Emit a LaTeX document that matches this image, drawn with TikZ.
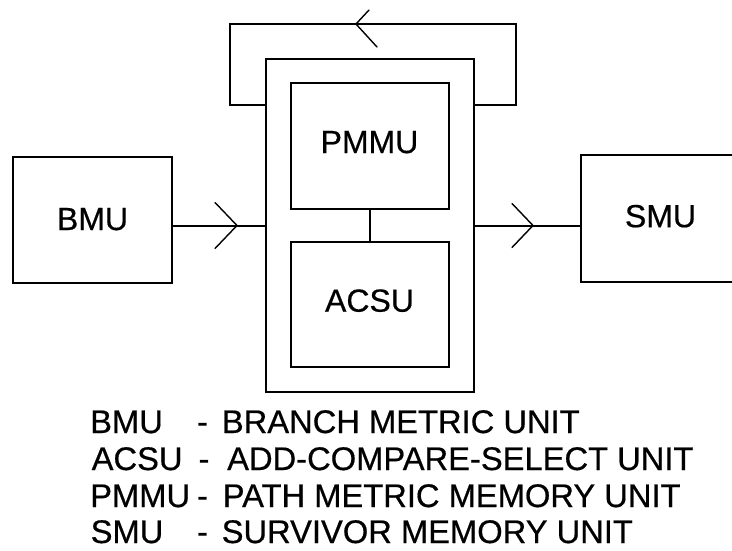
\documentclass[tikz,border=0pt]{standalone}
\usepackage{fontspec}
\setmainfont{Liberation Sans}[BoldFont=Liberation Sans, BoldFeatures={FakeBold=0.5}]
\newcommand{\heavytext}{\bfseries}
\begin{document}
\begin{tikzpicture}[x=1pt,y=-1pt,
  box/.style={draw, line width=2pt, inner sep=0pt, font=\fontsize{32}{38}\selectfont\heavytext},
  wire/.style={line width=2pt},
  chev/.style={line width=1.4pt, line cap=round},
  legend/.style={anchor=base west, inner sep=0pt, font=\fontsize{32.7}{38}\selectfont\heavytext},
  legdash/.style={anchor=base, inner sep=0pt, font=\fontsize{32.7}{38}\selectfont\heavytext}]
% page area
\fill[white] (0,0) rectangle (732,550);
\useasboundingbox (0,0) rectangle (732,550);
\clip (0,0) rectangle (732,550);

% blocks
\node[box, minimum width=159pt, minimum height=126pt, text depth=2pt] (bmu) at (92.5,220) {BMU};
\node[box, minimum width=159pt, minimum height=127pt, text depth=5pt] (smu) at (660.5,218.5) {SMU};
\node[box, minimum width=208pt, minimum height=333pt] (core) at (370,225.5) {};
\node[box, minimum width=158pt, minimum height=126pt, text depth=8pt] (pmmu) at (369.5,146) {PMMU};
\node[box, minimum width=158pt, minimum height=125pt, text depth=8pt] (acsu) at (369.5,304.5) {ACSU};

% connections
\draw[wire] (pmmu.south) -- (pmmu.south |- acsu.north);
\draw[wire] (bmu.east |- core.west) -- (core.west);
\draw[wire] (core.east) -- (core.east -| smu.west);
\draw[wire] (core.west |- 0,105) -- (230,105) |- (516,24) |- (core.east |- 0,105);

% direction marks
\coordinate (inTip) at (237,225.5);
\coordinate (outTip) at (533,225.5);
\coordinate (fbTip) at (356,24);
\draw[chev] ([shift={(-22,-23)}]inTip) -- (inTip) -- ([shift={(-22,23)}]inTip);
\draw[chev] ([shift={(-21,-22)}]outTip) -- (outTip) -- ([shift={(-21,22)}]outTip);
\draw[chev] ([shift={(13,-14)}]fbTip) -- (fbTip) -- ([shift={(21,23)}]fbTip);

% legend
\node[legend] (kBMU) at (90,433) {BMU};
\node[legdash] (dBMU) at (202.5,433) {-};
\node[legend] (tBMU) at (221.7,433) {BRANCH METRIC UNIT};

\node[legend] (kACSU) at (91.5,470) {ACSU};
\node[legdash] (dACSU) at (204,470) {-};
\node[legend] (tACSU) at (227,470) {ADD-COMPARE-SELECT UNIT};

\node[legend] (kPMMU) at (90,507) {PMMU};
\node[legdash] (dPMMU) at (202.5,507) {-};
\node[legend] (tPMMU) at (222.6,507) {PATH METRIC MEMORY UNIT};

\node[legend] (kSMU) at (90.5,543) {SMU};
\node[legdash] (dSMU) at (202.5,543) {-};
\node[legend] (tSMU) at (221.5,543) {SURVIVOR MEMORY UNIT};
\end{tikzpicture}
\end{document}
